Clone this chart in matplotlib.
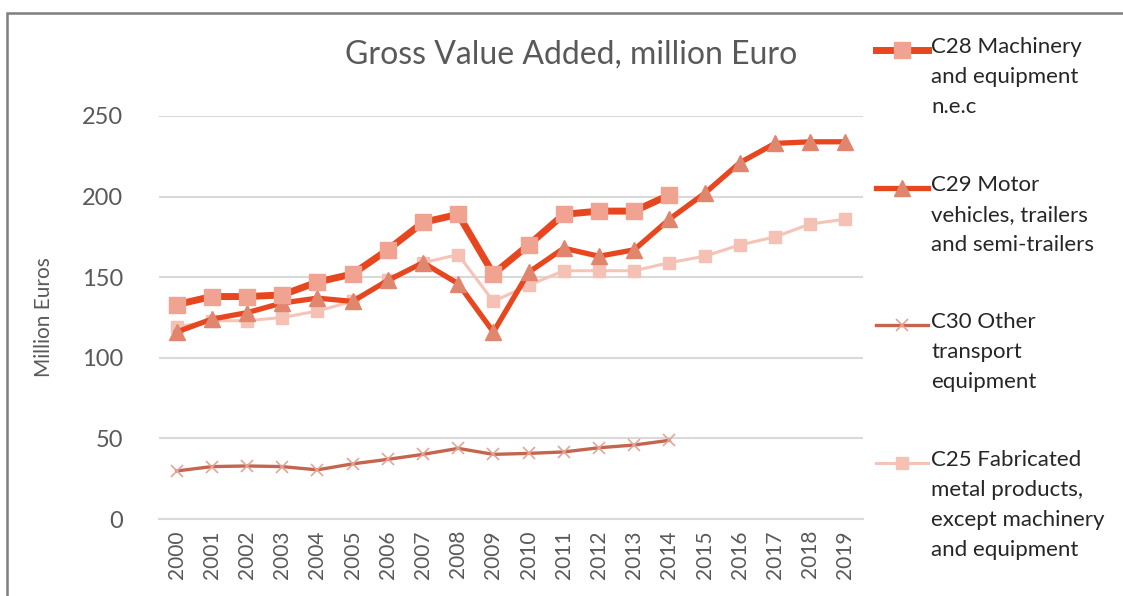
import matplotlib.pyplot as plt
from matplotlib.lines import Line2D
from matplotlib.patches import Rectangle

plt.rcParams['font.family'] = ['Lato', 'DejaVu Sans']

years = [str(y) for y in range(2000, 2020)]

# C28 and C30 stop at 2014
c28 = [133, 138, 138, 139, 147, 152, 167, 184, 189, 152, 170, 189, 191, 191, 201]
c29 = [116, 124, 128, 134, 137, 135, 148, 159, 146, 116, 153, 168, 163, 167, 186,
       202, 221, 233, 234, 234]
c30 = [29.8, 32.5, 32.9, 32.5, 30.5, 34.2, 37.0, 40.1, 43.8, 40.1, 40.7, 41.6,
       44.2, 45.9, 48.8]
c25 = [119, 123, 123, 125, 129, 135, 148, 159, 164, 135, 145, 154, 154, 154, 159,
       163, 170, 175, 183, 186]

labels = ["C28 Machinery\nand equipment\nn.e.c",
          "C29 Motor\nvehicles, trailers\nand semi-trailers",
          "C30 Other\ntransport\nequipment",
          "C25 Fabricated\nmetal products,\nexcept machinery\nand equipment"]

W, H = 1123, 596
fig = plt.figure(figsize=(W / 100, H / 100), dpi=100)
ax = fig.add_axes([159 / W, 1 - 519 / H, (863 - 159) / W, (519 - 116) / H])

red = '#E8461E'
styles = [
    dict(color=red, lw=5, marker='s', ms=11.5, mfc='#F0A391', mec='#F0A391', zorder=5),
    dict(color=red, lw=3.8, marker='^', ms=12, mfc='#E0866F', mec='#E0866F', zorder=4),
    dict(color='#C4654F', lw=2.4, marker='x', ms=9, mec='#E3A595', mew=1.2, zorder=3),
    dict(color='#F5C3B7', lw=2.2, marker='s', ms=8, mfc='#F5C1B5', mec='#F5C1B5', zorder=3),
]

x = list(range(len(years)))
for vals, st in zip([c28, c29, c30, c25], styles):
    ln, = ax.plot(x[:len(vals)], vals, **st)
    ln.set_clip_on(False)

ax.set_xlim(-0.5, len(years) - 0.5)
ax.set_ylim(0, 250)
ax.set_yticks([0, 50, 100, 150, 200, 250])
ax.set_xticks(x)
ax.set_xticklabels(years, rotation=90)
ax.grid(axis='y', color='#D9D9D9', lw=1.5)
ax.set_axisbelow(True)
for s in ['top', 'right', 'left']:
    ax.spines[s].set_visible(False)
ax.spines['bottom'].set_color('#D9D9D9')
ax.spines['bottom'].set_linewidth(1.5)
ax.tick_params(axis='both', length=0, colors='#595959', labelsize=15)
ax.tick_params(axis='y', pad=26, labelsize=17)
ax.tick_params(axis='x', pad=8)
ax.set_ylabel("Million Euros", fontsize=15, color='#595959', labelpad=20)

fig.text(571 / W, 1 - 55 / H, "Gross Value Added, million Euro",
         ha='center', va='center', fontsize=23, color='#595959')

# legend drawn by hand so each handle sits beside the first text line
first_line_y = [50, 188, 325, 463]
for lab, st, yy in zip(labels, styles, first_line_y):
    yf = 1 - yy / H
    fig.add_artist(Line2D([876 / W, 928 / W], [yf, yf], transform=fig.transFigure,
                          color=st['color'], lw=st['lw']))
    mk = {k: v for k, v in st.items() if k not in ('color', 'lw', 'zorder')}
    fig.add_artist(Line2D([902 / W], [yf], transform=fig.transFigure, ls='none', **mk))
    fig.text(931 / W, yf + 13 / H, lab, ha='left', va='top', fontsize=16,
             color='#262626', linespacing=1.62)

fig.add_artist(Rectangle((7 / W, -0.1), 1.2, 1 - 13 / H + 0.1,
                         transform=fig.transFigure, fill=False,
                         edgecolor='#7F7F7F', lw=1.8))

fig.savefig('out.png', dpi=100)
